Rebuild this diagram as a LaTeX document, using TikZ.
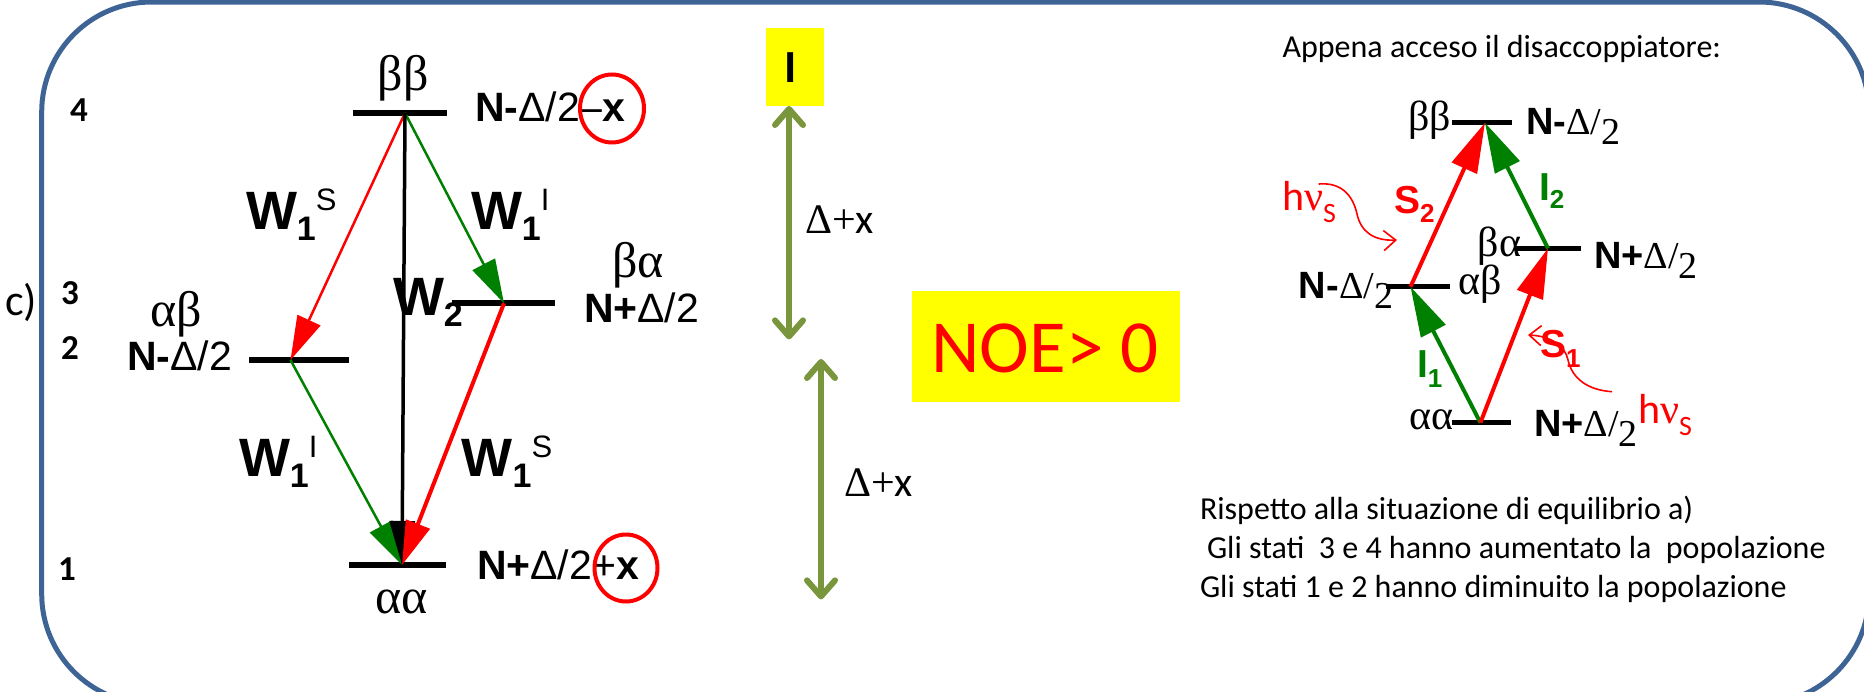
\documentclass[tikz,border=0pt]{standalone}
\usepackage{fontspec}
\setmainfont{Carlito}
\newfontfamily\arialf{Liberation Sans}
\newfontfamily\timesf{Liberation Serif}
\usetikzlibrary{arrows.meta}
\definecolor{frameblue}{RGB}{62,100,150}
\definecolor{olivegr}{RGB}{122,150,60}
\definecolor{dgreen}{RGB}{0,128,0}
\definecolor{myred}{RGB}{255,0,0}
\definecolor{myyellow}{RGB}{255,255,0}
\newcommand{\fsz}[1]{\fontsize{#1}{#1}\selectfont}
\newcommand{\Wl}[2]{W\raisebox{-11pt}{\fsz{34}#1}\raisebox{19pt}{\fsz{31}\mdseries #2}}
\newcommand{\Wsub}[1]{W\raisebox{-11pt}{\fsz{34}#1}}
\newcommand{\Nd}[1]{N#1{\timesf\mdseries Δ/\raisebox{-10pt}{2}}}
\newcommand{\hnu}{h{\timesf ν}\raisebox{-12pt}{\fsz{28}S}}
\tikzset{
 frame/.style={draw=frameblue,line width=5pt,rounded corners=110pt},
 lev/.style={line width=6pt},
 rlev/.style={line width=5pt},
 ltr/.style={-{Triangle[length=44pt,width=25pt]}},
 rtr/.style={line width=4pt,-{Triangle[length=50pt,width=27pt]}},
 wlab/.style={font=\arialf\bfseries\fsz{54},anchor=base west},
 nlab/.style={font=\arialf\bfseries\fsz{41}},
 greek/.style={font=\timesf\fsz{50}},
 rgreek/.style={font=\timesf\fsz{42}},
 rn/.style={font=\arialf\bfseries\fsz{38}},
 num/.style={font=\bfseries\fsz{35}},
 dbl/.style={draw=olivegr,line width=6pt,{Straight Barb[length=16pt,width=28pt,round]}-{Straight Barb[length=16pt,width=28pt,round]}},
 delta/.style={font=\fsz{42},anchor=base west},
 body/.style={font=\fsz{32},anchor=base west},
 wavy/.style={draw=myred,line width=1.6pt,-{Straight Barb[length=12pt,width=20pt]}},
 circ/.style={draw=myred,line width=4pt},
 rlab/.style={font=\arialf\bfseries\fsz{39},anchor=base west},
 hv/.style={font=\fsz{42},text=myred,anchor=base west},
}
\begin{document}
\begin{tikzpicture}[x=1pt,y=-1pt,every node/.style={inner sep=0pt,outer sep=0pt}]
\useasboundingbox (0,0) rectangle (1864,691);
\draw[frame] (41.7,2) rectangle (1869,704);

% ---------- left diagram ----------
\node[num] (n4) at (79,110) {4};
\node[num] (n3) at (70,293) {3};
\node[num] (n2) at (70,348) {2};
\node[num] (n1) at (67,569) {1};
\node[font=\fsz{44}] (cl) at (21,302) {c)};

\coordinate (L4a) at (352.6,112.5); \coordinate (L4b) at (446.5,112.5);
\coordinate (L3a) at (452,303.3);   \coordinate (L3b) at (555,303.3);
\coordinate (L2a) at (249,360);     \coordinate (L2b) at (349,360);
\coordinate (L1a) at (348.8,565);   \coordinate (L1b) at (446.3,565);
\draw[lev] (L4a) -- (L4b);
\draw[lev] (L3a) -- (L3b);
\draw[lev] (L2a) -- (L2b);
\draw[lev] (L1a) -- (L1b);

\coordinate (P4) at (405,113);
\coordinate (P3) at (504,303.3);
\coordinate (P2) at (290.5,360);
\coordinate (P1) at (402,565);
\draw[myred,line width=2.5pt,ltr] (P4) -- (P2);
\draw[dgreen,line width=2.5pt,ltr] (P4) -- (P3);
\draw[dgreen,line width=2.5pt,ltr] (P2) -- (P1);
\draw[black,line width=3.5pt,ltr] (P4) -- (P1);
\draw[myred,line width=4pt,ltr] (P3) -- (P1);

\node[wlab] (w1s) at (246,229) {\Wl{1}{S}};
\node[wlab] (w1i) at (471,229) {\Wl{1}{I}};
\node[wlab] (w2) at (393,315) {\Wsub{2}};
\node[wlab] (w1il) at (239,476) {\Wl{1}{I}};
\node[wlab] (w1sl) at (461.7,476) {\Wl{1}{S}};

\node[greek] (bb) at (403,78.5) {ββ};
\node[greek] (ba) at (638,265) {βα};
\node[greek] (ab) at (176.5,314) {αβ};
\node[greek] (aa) at (401.7,601.6) {αα};

\node[nlab,anchor=base west] (e4) at (475,121) {N-{\mdseries Δ/2}{\mdseries –}x};
\node[nlab,anchor=base west] (e3) at (584,322) {N+{\mdseries Δ/2}};
\node[nlab,anchor=base east] (e2) at (232,370) {N-{\mdseries Δ/2}};
\node[nlab,anchor=base west] (e1) at (477,579) {N+{\mdseries Δ/2+}x};
\draw[circ] (612,108.5) ellipse [x radius=32pt, y radius=34pt];
\draw[circ] (626,568) ellipse [x radius=31.5pt, y radius=33.5pt];

% ---------- middle ----------
\node[fill=myyellow,minimum width=58pt,minimum height=78pt] (ibox) at (795,67) {};
\node[font=\bfseries\fsz{46}] (Ilab) at (791,67.7) {I};
\coordinate (a1t) at (789,106); \coordinate (a1b) at (789,339.4);
\draw[dbl] (a1t) -- (a1b);
\coordinate (a2t) at (821,359); \coordinate (a2b) at (821,599.4);
\draw[dbl] (a2t) -- (a2b);
\node[delta] (d1) at (805,233.6) {{\timesf Δ+}x};
\node[delta] (d2) at (844,496) {{\timesf Δ+}x};
\node[fill=myyellow,minimum width=268pt,minimum height=111pt] (noebox) at (1046,346.5) {};
\node[font=\fsz{75},text=myred,anchor=base] (noe) at (1045,372.4) {NOE> 0};

% ---------- right diagram ----------
\node[body] (title) at (1282.6,57) {Appena acceso il disaccoppiatore:};

\coordinate (R4a) at (1452,122.7);  \coordinate (R4b) at (1512,122.7);
\coordinate (R3a) at (1515.5,248.3);\coordinate (R3b) at (1581,248.3);
\coordinate (R2a) at (1386,286.7);  \coordinate (R2b) at (1450,286.7);
\coordinate (R1a) at (1452,422.7);  \coordinate (R1b) at (1511,422.7);
\draw[rlev] (R4a) -- (R4b);
\draw[rlev] (R3a) -- (R3b);
\draw[rlev] (R2a) -- (R2b);
\draw[rlev] (R1a) -- (R1b);

\coordinate (Q4) at (1485,122.7);
\coordinate (Q3) at (1548,248.3);
\coordinate (Q2) at (1410.5,286.7);
\coordinate (Q1) at (1480.4,422.7);
\draw[myred,rtr] (Q2) -- (Q4);
\draw[dgreen,rtr] (Q3) -- (Q4);
\draw[dgreen,rtr] (Q1) -- (Q2);
\draw[myred,rtr] (Q1) -- (Q3);

\node[rgreek,anchor=base east] (rbb) at (1451,130) {ββ};
\node[rgreek,anchor=base east] (rba) at (1521,256) {βα};
\node[rgreek,anchor=base west] (rab) at (1458,294) {αβ};
\node[rgreek,anchor=base east] (raa) at (1453,429) {αα};

\node[rn,anchor=base west] (f4) at (1526,134) {\Nd{-}};
\node[rn,anchor=base west] (f3) at (1594,268) {\Nd{+}};
\node[rn,anchor=base east] (f2) at (1393,298) {\Nd{-}};
\node[rn,anchor=base west] (f1) at (1534,436) {\Nd{+}};

\node[rlab,text=myred] (s2) at (1394,213) {S\raisebox{-9pt}{\fsz{26}2}};
\node[rlab,text=dgreen] (i2) at (1539,200) {I\raisebox{-8pt}{\fsz{26}2}};
\node[rlab,text=dgreen] (i1) at (1417,377) {I\raisebox{-10pt}{\fsz{26}1}};
\node[rlab,text=myred] (s1) at (1540,357) {S\raisebox{-10pt}{\fsz{26}1}};

\node[hv] (hv1) at (1282,210) {\hnu};
\node[hv] (hv2) at (1638,423) {\hnu};
\coordinate (w1a) at (1318.6,184); \coordinate (w1b) at (1397,240);
\draw[wavy] (w1a) .. controls (1342,182) and (1353,196) .. (1357,214)
  .. controls (1361,232) and (1374,241) .. (w1b);
\coordinate (w2a) at (1612,391.7); \coordinate (w2b) at (1528,335);
\draw[wavy] (w2a) .. controls (1587,390) and (1572,378) .. (1568,360)
  .. controls (1565,345) and (1550,336) .. (w2b);

\node[body] (t1) at (1200,519) {Rispetto alla situazione di equilibrio a)};
\node[body] (t2) at (1207,558) {Gli stati\ \ 3 e 4 hanno aumentato la\ \ popolazione};
\node[body] (t3) at (1200,597) {Gli stati 1 e 2 hanno diminuito la popolazione};
\end{tikzpicture}
\end{document}
